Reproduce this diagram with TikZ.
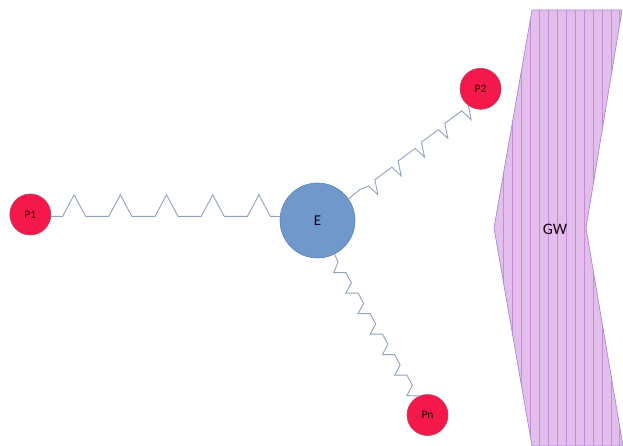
\documentclass[tikz,border=0pt]{standalone}
\usepackage{fontspec}
\setmainfont{Carlito}
\definecolor{pred}{HTML}{F5184B}
\definecolor{predline}{HTML}{B9405F}
\definecolor{eblue}{HTML}{7098CA}
\definecolor{eline}{HTML}{5C83B6}
\definecolor{springc}{HTML}{8FA2BD}
\definecolor{gwfill}{HTML}{E3BDEC}
\definecolor{gwstripe}{HTML}{C68CD9}
\definecolor{gwline}{HTML}{A58CCF}
\tikzset{
  pnode/.style={circle, fill=pred, draw=predline, line width=0.6pt, minimum size=41pt, inner sep=0pt, font=\fontsize{11.5}{12}\selectfont, text=black!85!red},
  enode/.style={circle, fill=eblue, draw=eline, line width=0.6pt, minimum size=75pt, inner sep=0pt, font=\fontsize{15}{16}\selectfont, text=black!85!blue},
  spring/.style={draw=springc, line width=0.9pt, line join=miter},
  gwlabel/.style={font=\fontsize{16}{17}\selectfont, text=black!85!violet, inner sep=0pt}
}
\begin{document}
\begin{tikzpicture}[x=1pt,y=-1pt]
\useasboundingbox (0,0) rectangle (623,446);
% GW wall
\begin{scope}
\clip (0,0) rectangle (623,446);
\path[fill=gwfill] (532,10) -- (622,10) -- (586,228) -- (623,446) -- (532,446) -- (494,228) -- cycle;
\begin{scope}
\clip (532,10) -- (622,10) -- (586,228) -- (623,446) -- (532,446) -- (494,228) -- cycle;
\foreach \i in {0,...,13} {
  \draw[gwstripe, line width=0.8pt] ({503.5+8.95*\i},0) -- ({503.5+8.95*\i},446);
}
\end{scope}
\draw[gwline, line width=0.7pt] (532,10) -- (622,10) -- (586,228) -- (623,446) -- (532,446) -- (494,228) -- cycle;
\end{scope}
\node[gwlabel] (GW) at (555,229) {GW};
% nodes
\node[pnode] (P1) at (30.3,214.5) {P1};
\node[enode] (E) at (317.5,220.5) {E};
\node[pnode] (P2) at (480.5,88.8) {P2};
\node[pnode] (Pn) at (427.5,415) {Pn};
% spring P1 - E
\draw[spring] (P1.-5) -- ++(11.6,0)
  \foreach \k in {1,...,4} { -- ++(11.5,-21.5) -- ++(11.5,21.5) -- ++(23.2,0) }
  -- ++(11.5,-21.5) -- ++(11.5,21.5) -- (E.174);
% spring E - P2
\draw[spring] (E.35) -- ++(11.8,-9.5) -- ++(8.3,-3.3) -- ++(9.3,8.7)
  \foreach \k in {1,...,4} { -- ++(-3,-15) -- ++(17,-12.5) -- ++(9.3,8.7) }
  -- (P2.-125);
% spring E - Pn
\draw[spring] (E.-63) -- ++(3.3,8.3) -- ++(-4.3,10.1)
  \foreach \k in {1,...,6} { -- ++(12.2,0) -- ++(5.5,10.25) -- ++(-5.5,10.25) }
  -- (Pn.114);
\end{tikzpicture}
\end{document}
